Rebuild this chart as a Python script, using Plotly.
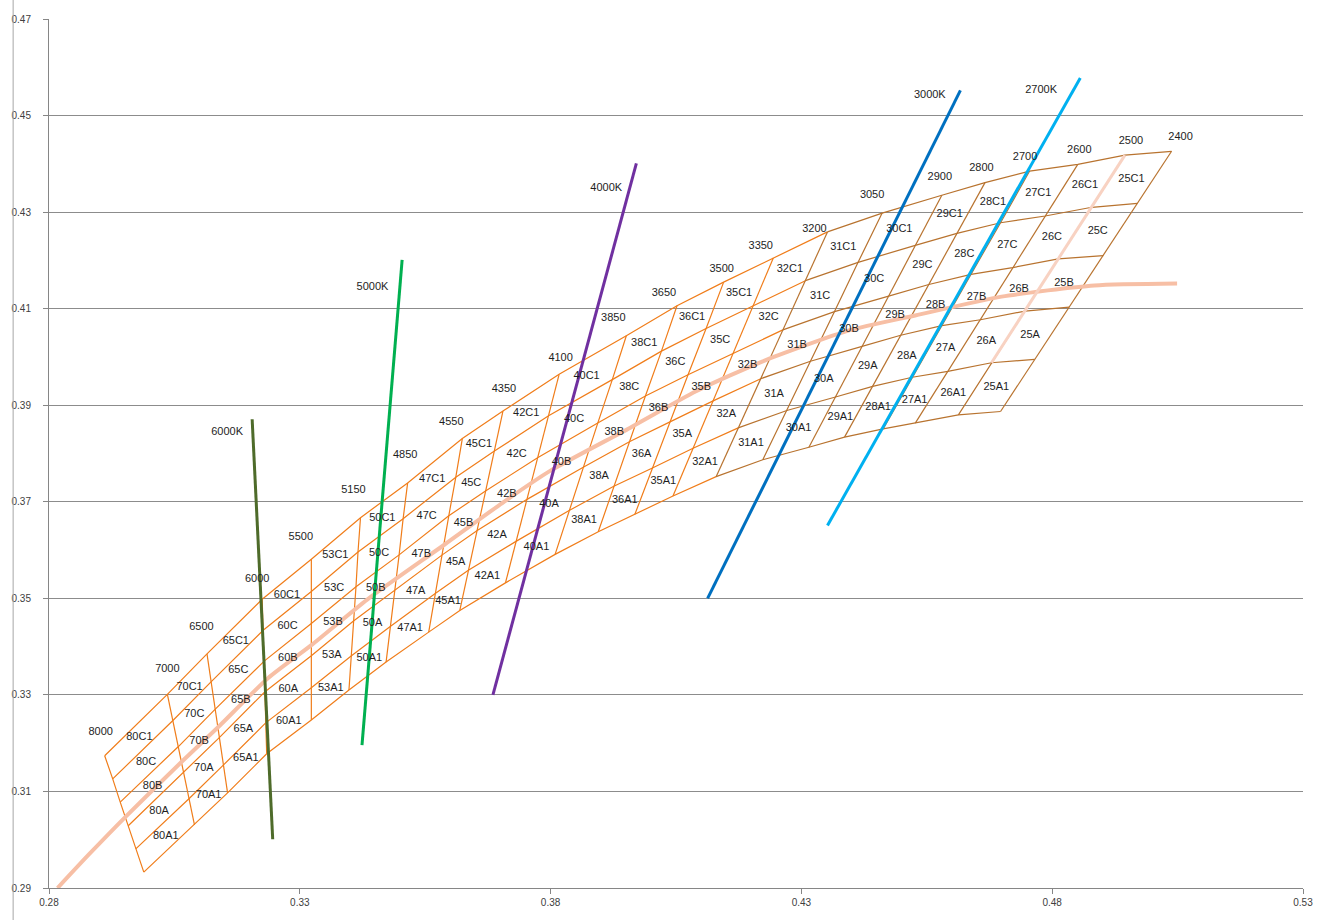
import plotly.graph_objects as go

# ---------------- data ----------------
iso_cct = ["8000", "7000", "6500", "6000", "5500", "5150", "4850", "4550", "4350", "4100", "3850",
           "3650", "3500", "3350", "3200", "3050", "2900", "2800", "2700", "2600", "2500", "2400"]

# grid nodes on each isotherm, row lines r0 (bottom of A1) ... r5 (top of C1)
x_r5 = [0.2911, 0.3036, 0.3115, 0.3225, 0.3323, 0.3421, 0.3515, 0.3624, 0.3705, 0.3817, 0.3951,
        0.4052, 0.4145, 0.4244, 0.4352, 0.4461, 0.4580, 0.4666, 0.4755, 0.4851, 0.4945, 0.5038]
y_r5 = [0.3174, 0.3301, 0.3385, 0.3498, 0.3581, 0.3667, 0.3739, 0.3831, 0.3888, 0.3964, 0.4044,
        0.4106, 0.4155, 0.4205, 0.4259, 0.4298, 0.4335, 0.4361, 0.4385, 0.4399, 0.4418, 0.4426]
x_r4 = [0.2927, 0.3047, 0.3123, 0.3227, 0.3323, 0.3416, 0.3506, 0.3611, 0.3688, 0.3796, 0.3923,
        0.4021, 0.4110, 0.4204, 0.4308, 0.4413, 0.4527, 0.4610, 0.4697, 0.4786, 0.4879, 0.4970]
y_r4 = [0.3126, 0.3247, 0.3327, 0.3434, 0.3514, 0.3596, 0.3665, 0.3751, 0.3805, 0.3878, 0.3953,
        0.4012, 0.4059, 0.4106, 0.4158, 0.4196, 0.4231, 0.4256, 0.4278, 0.4292, 0.4310, 0.4318]
x_r3 = [0.2942, 0.3058, 0.3131, 0.3229, 0.3323, 0.3412, 0.3498, 0.3597, 0.3671, 0.3774, 0.3894,
        0.3989, 0.4074, 0.4164, 0.4263, 0.4366, 0.4474, 0.4554, 0.4638, 0.4721, 0.4812, 0.4902]
y_r3 = [0.3078, 0.3193, 0.3270, 0.3370, 0.3448, 0.3524, 0.3590, 0.3671, 0.3723, 0.3791, 0.3863,
        0.3919, 0.3963, 0.4008, 0.4056, 0.4094, 0.4126, 0.4150, 0.4171, 0.4185, 0.4203, 0.4210]
x_r2 = [0.2958, 0.3068, 0.3140, 0.3230, 0.3323, 0.3407, 0.3489, 0.3584, 0.3653, 0.3753, 0.3866,
        0.3958, 0.4039, 0.4124, 0.4219, 0.4318, 0.4421, 0.4498, 0.4580, 0.4657, 0.4746, 0.4834]
y_r2 = [0.3029, 0.3139, 0.3212, 0.3306, 0.3381, 0.3453, 0.3516, 0.3590, 0.3640, 0.3705, 0.3772,
        0.3825, 0.3866, 0.3909, 0.3955, 0.3991, 0.4022, 0.4045, 0.4065, 0.4077, 0.4095, 0.4103]
x_r1 = [0.2973, 0.3079, 0.3148, 0.3232, 0.3323, 0.3403, 0.3481, 0.3570, 0.3636, 0.3731, 0.3837,
        0.3926, 0.4003, 0.4084, 0.4174, 0.4271, 0.4368, 0.4442, 0.4521, 0.4592, 0.4679, 0.4765]
y_r1 = [0.2981, 0.3085, 0.3155, 0.3242, 0.3315, 0.3381, 0.3442, 0.3510, 0.3558, 0.3618, 0.3682,
        0.3732, 0.3770, 0.3811, 0.3853, 0.3889, 0.3917, 0.3939, 0.3958, 0.3970, 0.3988, 0.3995]
x_r0 = [0.2989, 0.3090, 0.3156, 0.3234, 0.3323, 0.3398, 0.3472, 0.3557, 0.3619, 0.3710, 0.3809,
        0.3895, 0.3968, 0.4044, 0.4130, 0.4223, 0.4315, 0.4386, 0.4463, 0.4527, 0.4613, 0.4697]
y_r0 = [0.2933, 0.3031, 0.3097, 0.3178, 0.3248, 0.3310, 0.3368, 0.3430, 0.3475, 0.3532, 0.3591,
        0.3638, 0.3674, 0.3712, 0.3752, 0.3787, 0.3813, 0.3834, 0.3851, 0.3863, 0.3880, 0.3887]

bin_cols = ["80", "70", "65", "60", "53", "50", "47", "45", "42", "40", "38",
            "36", "35", "32", "31", "30", "29", "28", "27", "26", "25"]
bin_rows = ["A1", "A", "B", "C", "C1"]

# positions of the CCT number labels
cct_lab_x = [0.2903, 0.3036, 0.3104, 0.3215, 0.3302, 0.3407, 0.3510, 0.3602, 0.3707, 0.3820, 0.3925,
             0.4026, 0.4141, 0.4219, 0.4326, 0.4441, 0.4576, 0.4659, 0.4746, 0.4854, 0.4957, 0.5056]
cct_lab_y = [0.3222, 0.3354, 0.3440, 0.3539, 0.3626, 0.3723, 0.3797, 0.3865, 0.3933, 0.3997, 0.4081,
             0.4131, 0.4182, 0.4230, 0.4265, 0.4335, 0.4372, 0.4390, 0.4413, 0.4429, 0.4447, 0.4455]

# black-body locus
locus_x = [0.2817, 0.2880, 0.2953, 0.3065, 0.3138, 0.3237, 0.3323, 0.3435, 0.3588, 0.3707,
           0.3799, 0.3958, 0.4090, 0.4223, 0.4395, 0.4527, 0.4699, 0.4884, 0.5049]
locus_y = [0.2900, 0.2970, 0.3048, 0.3162, 0.3234, 0.3335, 0.3403, 0.3498, 0.3611, 0.3700,
           0.3764, 0.3853, 0.3929, 0.3991, 0.4055, 0.4086, 0.4125, 0.4148, 0.4152]

# 2500 overlay line
line2500_x = [0.4679, 0.4945]
line2500_y = [0.3988, 0.4418]

# nominal CCT lines
k_names = ["6000K", "5000K", "4000K", "3000K", "2700K"]
k_x0 = [0.3246, 0.3424, 0.3685, 0.4113, 0.4352]
k_y0 = [0.3001, 0.3196, 0.3300, 0.3500, 0.3651]
k_x1 = [0.3205, 0.3504, 0.3971, 0.4617, 0.4856]
k_y1 = [0.3871, 0.4201, 0.4401, 0.4552, 0.4578]
k_colors = ["#4E6B2A", "#00B050", "#7030A0", "#0070C0", "#00B0F0"]
k_lab_x = [0.3155, 0.3445, 0.3911, 0.4556, 0.4778]
k_lab_y = [0.3844, 0.4145, 0.4349, 0.4543, 0.4552]

x_ticks = [0.28, 0.33, 0.38, 0.43, 0.48, 0.53]
y_ticks = [0.29, 0.31, 0.33, 0.35, 0.37, 0.39, 0.41, 0.43, 0.45, 0.47]

# ---------------- figure ----------------
rows_x = [x_r0, x_r1, x_r2, x_r3, x_r4, x_r5]
rows_y = [y_r0, y_r1, y_r2, y_r3, y_r4, y_r5]
n = len(iso_cct)
split = iso_cct.index("3200")

ORANGE = "#F07D1A"
BROWN = "#B8732F"


def grid_path(i_start, i_end, iso_list):
    xs, ys = [], []
    for rx, ry in zip(rows_x, rows_y):
        xs += rx[i_start:i_end + 1] + [None]
        ys += ry[i_start:i_end + 1] + [None]
    for i in iso_list:
        xs += [rx[i] for rx in rows_x] + [None]
        ys += [ry[i] for ry in rows_y] + [None]
    return xs, ys


fig = go.Figure()

gx, gy = grid_path(0, split, range(0, split))
fig.add_trace(go.Scatter(x=gx, y=gy, mode="lines", line=dict(color=ORANGE, width=1.2),
                         hoverinfo="skip"))
gx, gy = grid_path(split, n - 1, range(split, n))
fig.add_trace(go.Scatter(x=gx, y=gy, mode="lines", line=dict(color=BROWN, width=1.2),
                         hoverinfo="skip"))

fig.add_trace(go.Scatter(x=locus_x, y=locus_y, mode="lines",
                         line=dict(color="#F7BFA5", width=4, shape="spline", smoothing=0.6),
                         hoverinfo="skip"))
fig.add_trace(go.Scatter(x=line2500_x, y=line2500_y, mode="lines",
                         line=dict(color="#F8D2C2", width=3), hoverinfo="skip"))

for i in range(len(k_names)):
    fig.add_trace(go.Scatter(x=[k_x0[i], k_x1[i]], y=[k_y0[i], k_y1[i]], mode="lines",
                             line=dict(color=k_colors[i], width=3), hoverinfo="skip"))

# bin labels at quad centres
bx, by, bt = [], [], []
for c in range(len(bin_cols)):
    for r in range(len(bin_rows)):
        xs = [rows_x[r][c], rows_x[r][c + 1], rows_x[r + 1][c], rows_x[r + 1][c + 1]]
        ys = [rows_y[r][c], rows_y[r][c + 1], rows_y[r + 1][c], rows_y[r + 1][c + 1]]
        bx.append(sum(xs) / 4)
        by.append(sum(ys) / 4)
        bt.append(bin_cols[c] + bin_rows[r])

LABEL_FONT = dict(family="Liberation Sans", size=11, color="#1E1E1E")
fig.add_trace(go.Scatter(x=bx, y=by, text=bt, mode="text", textfont=LABEL_FONT,
                         textposition="middle center", hoverinfo="skip"))
fig.add_trace(go.Scatter(x=cct_lab_x, y=cct_lab_y, text=iso_cct, mode="text", textfont=LABEL_FONT,
                         textposition="middle center", hoverinfo="skip"))
fig.add_trace(go.Scatter(x=k_lab_x, y=k_lab_y, text=k_names, mode="text", textfont=LABEL_FONT,
                         textposition="middle center", hoverinfo="skip"))

fig.update_layout(
    width=1326, height=920,
    margin=dict(l=43, r=23, t=19, b=28),
    paper_bgcolor="white", plot_bgcolor="white",
    showlegend=False, hovermode=False,
    font=dict(family="Liberation Sans", size=10, color="#333333"),
    shapes=[dict(type="line", xref="paper", yref="paper", x0=-0.0286, x1=-0.0286, y0=-0.04, y1=1.03,
                 line=dict(color="#A6A6A6", width=1))],
)
fig.update_xaxes(range=[0.28, 0.53], tickvals=x_ticks, ticktext=[f"{v:.2f}" for v in x_ticks],
                 showgrid=False, zeroline=False, showline=True, linecolor="#868686", linewidth=1,
                 ticks="outside", ticklen=5, tickcolor="#868686",
                 tickfont=dict(family="Liberation Sans", size=10, color="#404040"))
fig.update_yaxes(range=[0.29, 0.47], tickvals=y_ticks, ticktext=[f"{v:.2f}" for v in y_ticks],
                 showgrid=True, gridcolor="#8C8C8C", gridwidth=1, zeroline=False,
                 showline=True, linecolor="#868686", linewidth=1,
                 ticks="outside", ticklen=5, tickcolor="#868686", ticklabelstandoff=10,
                 tickfont=dict(family="Liberation Sans", size=10, color="#404040"))

fig.write_html("out.html", config={"displayModeBar": False},
               post_script="document.body.style.margin='0';")
